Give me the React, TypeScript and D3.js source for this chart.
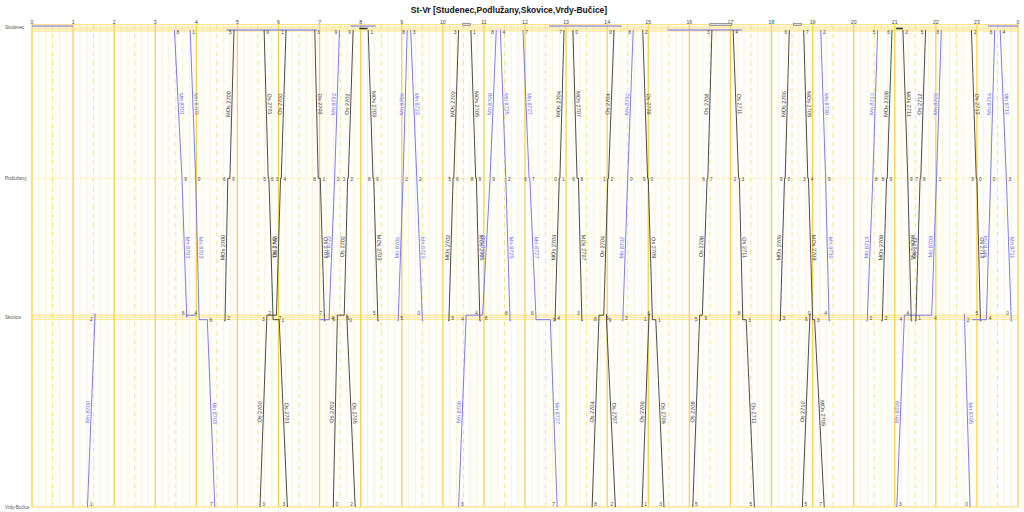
import React from "react";
import * as d3 from "d3";

const chartTitle = "St-Vr [Studenec,Podlužany,Skovice,Vrdy-Bučice]";
const stationNames = ["Studenec", "Podlužany", "Skovice", "Vrdy-Bučice"];
const stationKm = [0, 4.56, 8.76, 14.5];
const hourValues = d3.range(0, 25);
const hourLabels = hourValues.map((h) => String(h % 24));

const trainNames = [
  "Mn 8700", "Mn 8701", "Mn 8703", "MOs 2700", "Os 2700", "Os 2701", "Os 2703", "Mn 8722", "Os 2702", "Os 2705",
  "MOs 2703", "Mn 8706", "Mn 8723", "MOs 2702", "MOs 2705", "Mn 8708", "Mn 8725", "Mn 8727", "MOs 2704", "MOs 2707",
  "Os 2704", "Os 2707", "Mn 8732", "Os 2706", "Os 2709", "Os 2708", "Os 2711", "MOs 2706", "Os 2710", "MOs 2709",
  "Mn 8730", "Mn 8713", "MOs 2708", "Mn 8709", "MOs 2711", "Os 2712", "Mn 8705", "Os 2713", "Mn 8754", "Mn 8711",
];

// [time, station index] — 0 Studenec, 1 Podlužany, 2 Skovice, 3 Vrdy-Bučice
const trainStops: [string, number][][] = [
  [["1:21", 3], ["1:32", 2]],
  [["3:28", 0], ["3:39", 1], ["3:46", 2], ["4:00", 2]],
  [["3:51", 0], ["3:59", 1], ["4:04", 2], ["4:16", 2], ["4:27", 3]],
  [["4:42", 2], ["4:46", 1], ["4:49", 1], ["4:55", 0]],
  [["5:33", 3], ["5:43", 2], ["5:57", 2], ["6:03", 1], ["6:04", 1], ["6:11", 0]],
  [["5:39", 0], ["5:45", 1], ["5:46", 1], ["5:52", 2], ["6:01", 2], ["6:13", 3]],
  [["6:53", 0], ["6:58", 1], ["7:01", 1], ["7:07", 2]],
  [["7:00", 2], ["7:14", 2], ["7:22", 1], ["7:29", 0]],
  [["7:20", 3], ["7:26", 2], ["7:36", 2], ["7:41", 1], ["7:42", 1], ["7:49", 0]],
  [["7:40", 2], ["7:52", 3]],
  [["8:11", 0], ["8:18", 1], ["8:19", 1], ["8:25", 2]],
  [["8:55", 2], ["9:02", 1], ["9:08", 0]],
  [["9:13", 0], ["9:22", 1], ["9:30", 2]],
  [["10:09", 2], ["10:15", 1], ["10:16", 1], ["10:23", 0]],
  [["10:41", 0], ["10:48", 1], ["10:49", 1], ["10:54", 2]],
  [["10:23", 3], ["10:34", 2], ["10:58", 2], ["11:09", 1], ["11:18", 0]],
  [["11:24", 0], ["11:32", 1], ["11:38", 2]],
  [["11:57", 0], ["12:06", 1], ["12:07", 1], ["12:16", 2], ["12:37", 2], ["12:47", 3]],
  [["12:44", 2], ["12:50", 1], ["12:51", 1], ["12:57", 0]],
  [["13:10", 0], ["13:16", 1], ["13:18", 1], ["13:23", 2]],
  [["13:38", 3], ["13:48", 2], ["13:55", 2], ["14:01", 1], ["14:02", 1], ["14:10", 0]],
  [["13:59", 2], ["14:12", 3]],
  [["14:23", 2], ["14:30", 1], ["14:38", 0]],
  [["14:51", 3], ["15:01", 2]],
  [["14:52", 0], ["14:59", 1], ["15:00", 1], ["15:06", 2], ["15:11", 2], ["15:23", 3]],
  [["16:05", 3], ["16:15", 2], ["16:19", 2], ["16:26", 1], ["16:27", 1], ["16:33", 0]],
  [["17:04", 0], ["17:12", 1], ["17:13", 1], ["17:18", 2], ["17:23", 2], ["17:35", 3]],
  [["18:13", 2], ["18:19", 1], ["18:20", 1], ["18:26", 0]],
  [["18:45", 3], ["18:56", 2]],
  [["18:47", 0], ["18:53", 1], ["18:54", 1], ["19:00", 2], ["19:03", 2], ["19:17", 3]],
  [["19:12", 0], ["19:19", 1], ["19:24", 2]],
  [["20:20", 2], ["20:28", 1], ["20:35", 0]],
  [["20:42", 2], ["20:48", 1], ["20:49", 1], ["20:56", 0]],
  [["21:03", 3], ["21:14", 2], ["21:54", 2], ["22:01", 1], ["22:08", 0]],
  [["21:12", 0], ["21:19", 1], ["21:24", 2]],
  [["21:31", 2], ["21:37", 1], ["21:38", 1], ["21:45", 0]],
  [["22:42", 2], ["22:50", 3]],
  [["22:52", 0], ["22:59", 1], ["23:00", 1], ["23:05", 2]],
  [["22:53", 2], ["23:14", 2], ["23:20", 1], ["23:26", 0]],
  [["23:34", 0], ["23:43", 1], ["23:50", 2]],
];

// trains standing at Studenec
const standKinds = ["Mn", "Mn", "Mn", "Os", "Rv", "Mn", "Mn", "Rv", "Rv", "Os", "Mn"];
const standFrom = ["0:00", "4:44", "7:45", "7:58", "10:29", "12:35", "15:28", "16:30", "18:32", "21:02", "23:16"];
const standTo = ["1:00", "6:56", "8:22", "8:10", "10:40", "14:21", "17:17", "17:02", "18:44", "21:12", "24:00"];
const standTrack = [1, 3, 1, 2, 0, 1, 3, 0, 0, 2, 1];

const tm = (s: string) => {
  const [h, m] = s.split(":").map(Number);
  return h * 60 + m;
};

const BLUE = "#6b6bff";
const DARK = "#383838";

export default function App() {
  const W = 1024;
  const H = 512;
  const x = d3.scaleLinear().domain([0, 1440]).range([32, 1018]);
  const y = d3.scaleLinear().domain([0, 14.5]).range([27.5, 507]);
  const top = y(0) - 3;
  const bottom = y(14.5);
  const SKO = y(stationKm[2]);
  const SKO_UP = SKO - 2;
  const SKO_LOW = SKO + 2.5;
  const stY = (s: number) => (s === 0 ? y(0) + 2.5 : y(stationKm[s]));
  const stuTracks = [y(0) - 3, y(0) - 1.5, y(0) + 1, y(0) + 2.5];

  const gridMinutes = d3.range(0, 1441, 10);
  const line = d3.line<[number, number]>().x((d) => x(d[0])).y((d) => d[1]);

  const trains = trainStops.map((stops, ti) => {
    const groups: { s: number; times: number[] }[] = [];
    stops.forEach(([ts, s]) => {
      const t = tm(ts);
      const g = groups[groups.length - 1];
      if (g && g.s === s) g.times.push(t);
      else groups.push({ s, times: [t] });
    });
    const pts: [number, number][] = [];
    const firstIdx: number[] = [];
    const lastIdx: number[] = [];
    const digits: { t: number; yy: number; side: number }[] = [];
    groups.forEach((g, i) => {
      const prev = groups[i - 1];
      const next = groups[i + 1];
      const tA = g.times[0];
      const tD = g.times[g.times.length - 1];
      firstIdx.push(pts.length);
      if (g.s !== 2) {
        const yy = stY(g.s);
        pts.push([tA, yy]);
        if (tD !== tA) pts.push([tD, yy]);
      } else {
        if (prev && next) {
          if (tD === tA) pts.push([tA, SKO]);
          else {
            const tr = next.s > 2 ? SKO_LOW : SKO_UP;
            pts.push([tA, SKO], [tA, tr], [tD, tr]);
          }
        } else if (!prev && next) {
          if (next.s < 2) {
            if (tD > tA) pts.push([tA, SKO_LOW], [tD, SKO_LOW], [tD, SKO_UP]);
            else pts.push([tA - 1.5, SKO_LOW + 1], [tA, SKO_LOW + 1], [tA, SKO]);
          } else {
            pts.push([tA, SKO_UP - 1], [tA, SKO_LOW]);
          }
        } else if (prev && !next) {
          if (prev.s < 2) {
            if (tD > tA) pts.push([tA, SKO], [tA, SKO_UP], [tD, SKO_UP]);
            else pts.push([tA, SKO], [tA, SKO_LOW + 1], [tA + 1.5, SKO_LOW + 1]);
          } else {
            pts.push([tA, SKO], [tA, SKO_UP - 1], [tA + 1.5, SKO_UP - 1]);
          }
        }
      }
      lastIdx.push(pts.length - 1);
      const base = (kind: "a" | "d") => {
        if (g.s === 0) return y(0) + 6;
        if (g.s === 1) return stY(1) + 2.5;
        if (g.s === 3) return stY(3) - 1.2;
        if (kind === "a") return prev && prev.s < 2 ? SKO - 2 : SKO + 4;
        return next && next.s < 2 ? SKO + 3 : SKO + 5;
      };
      if (prev && next && tA === tD) digits.push({ t: tA, yy: base("d"), side: 1 });
      else {
        if (prev) digits.push({ t: tA, yy: base("a"), side: -1 });
        if (next) digits.push({ t: tD, yy: base("d"), side: 1 });
      }
    });
    const segs = groups.slice(0, -1).map((g, i) => {
      const p1 = pts[lastIdx[i]];
      const p2 = pts[firstIdx[i + 1]];
      const x1 = x(p1[0]), y1 = p1[1], x2 = x(p2[0]), y2 = p2[1];
      return {
        mx: (x1 + x2) / 2,
        my: (y1 + y2) / 2,
        ang: (Math.atan2(y2 - y1, x2 - x1) * 180) / Math.PI,
      };
    });
    const kind = trainNames[ti].startsWith("Mn") ? "Mn" : "Os";
    return { name: trainNames[ti], kind, pts, segs, digits };
  });

  return (
    <svg
      width={W}
      height={H}
      style={{ position: "absolute", left: 0, top: 0, background: "#fff" }}
      fontFamily="'Liberation Sans', Arial, sans-serif"
    >
      <rect width={W} height={H} fill="#fff" />
      <text x={509} y={12.5} textAnchor="middle" fontSize={8.5} fontWeight="bold" fill="#111">
        {chartTitle}
      </text>

      {/* vertical grid */}
      {gridMinutes.map((m) => {
        const isHour = m % 60 === 0;
        const isHalf = !isHour && m % 30 === 0;
        return (
          <line
            key={"g" + m}
            x1={x(m)}
            x2={x(m)}
            y1={top}
            y2={bottom}
            stroke={isHour ? "#ffd23c" : isHalf ? "#ffe07a" : "#fff0c2"}
            strokeWidth={isHour ? 1.3 : isHalf ? 1 : 0.8}
            strokeDasharray={isHalf ? "5,4" : undefined}
          />
        );
      })}

      {/* station lines */}
      {[-3, -0.5, 1.5, 3.5].map((o, i) => (
        <line key={"st0" + i} x1={x(0)} x2={x(1440)} y1={y(0) + o} y2={y(0) + o} stroke="#ffd860" strokeWidth={0.8} />
      ))}
      <line x1={x(0)} x2={x(1440)} y1={stY(1)} y2={stY(1)} stroke="#ffd860" strokeWidth={0.8} strokeDasharray="1.5,1.5" />
      {[-2, 0, 2.5].map((o, i) => (
        <line key={"st2" + i} x1={x(0)} x2={x(1440)} y1={SKO + o} y2={SKO + o} stroke="#ffd860" strokeWidth={0.8} />
      ))}
      <line x1={x(0)} x2={x(1440)} y1={stY(3)} y2={stY(3)} stroke="#ffd860" strokeWidth={1} />

      {/* station names */}
      {stationNames.map((n, i) => (
        <text key={n} x={5} y={y(stationKm[i]) + 1.6} fontSize={4.6} fill="#555">
          {n}
        </text>
      ))}

      {/* hour labels */}
      {hourValues.map((h, i) => (
        <text key={"h" + h} x={x(h * 60)} y={top - 0.8} textAnchor="middle" fontSize={5.2} fill="#444">
          {hourLabels[i]}
        </text>
      ))}

      {/* standing at Studenec */}
      {standKinds.map((k, i) => {
        const x1 = x(tm(standFrom[i]));
        const x2 = x(tm(standTo[i]));
        const yy = stuTracks[standTrack[i]];
        if (k === "Rv")
          return (
            <rect key={"sd" + i} x={x1} y={yy - 1} width={x2 - x1} height={2} fill="#ddd" stroke="#777" strokeWidth={0.7} />
          );
        return (
          <line
            key={"sd" + i}
            x1={x1}
            x2={x2}
            y1={yy}
            y2={yy}
            stroke={k === "Mn" ? BLUE : DARK}
            strokeWidth={k === "Mn" ? 1 : 1.6}
          />
        );
      })}

      {/* trains */}
      {trains.map((tr, i) => {
        const col = tr.kind === "Mn" ? BLUE : DARK;
        return (
          <g key={"t" + i}>
            <path d={line(tr.pts) || ""} fill="none" stroke={col} strokeWidth={0.9} />
            {tr.segs.map((s, j) => (
              <text
                key={"l" + j}
                transform={`translate(${s.mx},${s.my}) rotate(${s.ang})`}
                dy={-1.6}
                textAnchor="middle"
                fontSize={5.6}
                fill={col}
              >
                {tr.name}
              </text>
            ))}
            {tr.digits.map((d, j) => (
              <text
                key={"d" + j}
                x={x(d.t) + d.side * 2.2}
                y={d.yy}
                textAnchor={d.side > 0 ? "start" : "end"}
                fontSize={4.8}
                fill="#444"
              >
                {String(Math.round(d.t) % 10)}
              </text>
            ))}
          </g>
        );
      })}
    </svg>
  );
}
